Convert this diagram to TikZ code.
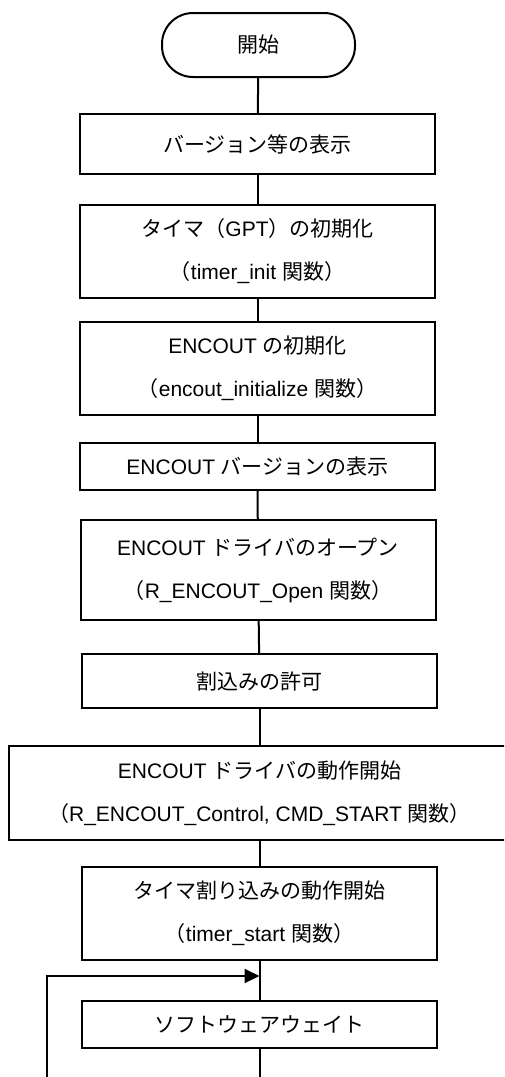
\documentclass[tikz,border=0pt]{standalone}
\usepackage{fontspec}
\setmainfont{Liberation Sans}
\newfontfamily\jpfont{Noto Sans CJK JP}
\newcommand\J[1]{{\jpfont #1}}
\usetikzlibrary{arrows.meta}
\begin{document}
\begin{tikzpicture}[x=1pt,y=1pt,
  box/.style={draw,line width=2pt,rectangle,minimum width=355pt,align=center,inner sep=0pt,
    font=\fontsize{21}{43}\selectfont},
  term/.style={draw,line width=2pt,rectangle,rounded corners=31pt,minimum width=193pt,minimum height=64pt,
    inner sep=0pt,font=\fontsize{21}{43}\selectfont},
  conn/.style={line width=2pt},
  arr/.style={line width=2pt,-{Triangle[length=15pt,width=14pt]}}]
\useasboundingbox (0,0) rectangle (504,-1077);
\clip (0,0) rectangle (504,-1077);
\fill[white] (0,0) rectangle (504,-1077);
\node[term] (start) at (258.5,-45) {\J{開始}};
\node[box,minimum height=60pt] (b1) at (257.5,-144) {\J{バージョン等の表示}};
\node[box,minimum height=93pt] (b2) at (257.5,-251.5) {\J{タイマ（}GPT\J{）の初期化}\\\J{（}timer\_init \J{関数）}};
\node[box,minimum height=93pt] (b3) at (257.5,-368.5) {ENCOUT \J{の初期化}\\\J{（}encout\_initialize \J{関数）}};
\node[box,minimum height=47pt] (b4) at (257.5,-466.5) {ENCOUT \J{バージョンの表示}};
\node[box,minimum height=100pt] (b5) at (258,-570) {ENCOUT \J{ドライバのオープン}\\\J{（}R\_ENCOUT\_Open \J{関数）}};
\node[box,minimum height=54pt] (b6) at (259.5,-681) {\J{割込みの許可}};
\node[box,minimum height=94pt,minimum width=501pt] (b7) at (259.5,-793) {ENCOUT \J{ドライバの動作開始}\\\J{（}R\_ENCOUT\_Control, CMD\_START \J{関数）}};
\node[box,minimum height=93pt] (b8) at (259.5,-913.5) {\J{タイマ割り込みの動作開始}\\\J{（}timer\_start \J{関数）}};
\node[box,minimum height=47pt] (b9) at (259.5,-1024.5) {\J{ソフトウェアウェイト}};
\coordinate (j) at (259.5,-976);
\coordinate (lt) at (47,-976);
\coordinate (lb) at (47,-1085);
\coordinate (bot) at (259.5,-1085);
\draw[conn] (start) -- (b1);
\draw[conn] (b1) -- (b2);
\draw[conn] (b2) -- (b3);
\draw[conn] (b3) -- (b4);
\draw[conn] (b4) -- (b5);
\draw[conn] (b5) -- (b6);
\draw[conn] (b6.south) -- (b6.south |- b7.north);
\draw[conn] (b7.south -| b8.north) -- (b8.north);
\draw[conn] (b8) -- (b9);
\draw[conn] (b9) -- (bot);
\draw[arr] (lb) -- (lt) -- (j);
\end{tikzpicture}
\end{document}
